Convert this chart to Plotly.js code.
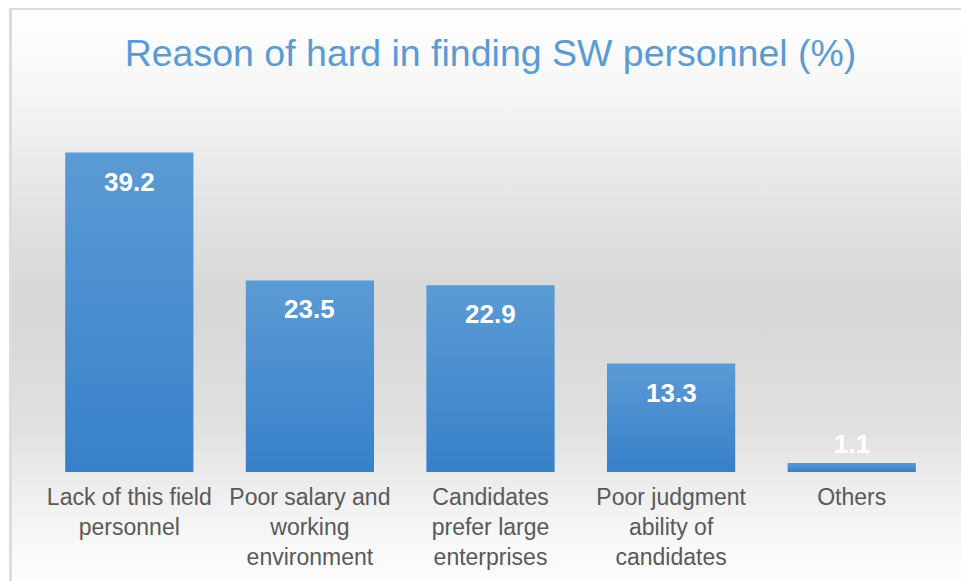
<!DOCTYPE html>
<html>
<head>
<meta charset="utf-8">
<script src="https://cdn.plot.ly/plotly-3.0.1.min.js"></script>
<style>
html,body{margin:0;padding:0;width:961px;height:581px;overflow:hidden;background:#ffffff;}
#frame{position:absolute;left:9px;top:8px;width:980px;height:600px;box-sizing:border-box;
border-left:3px solid #dcdcdc;border-top:2px solid #dcdcdc;
background:linear-gradient(to bottom,#ffffff 0px,#f5f5f5 90px,#e4e4e4 190px,#d8d8d8 280px,#d9d9d9 330px,#e1e1e1 420px,#ebebeb 465px,#f6f6f6 520px,#fdfdfd 573px);}
#chart{position:absolute;left:0;top:0;width:961px;height:581px;}
</style>
</head>
<body>
<div id="frame"></div>
<div id="chart"></div>
<script>
const categories = [
  "Lack of this field<br>personnel",
  "Poor salary and<br>working<br>environment",
  "Candidates<br>prefer large<br>enterprises",
  "Poor judgment<br>ability of<br>candidates",
  "Others"
];
const values = [39.2, 23.5, 22.9, 13.3, 1.1];
const chartTitle = "Reason of hard in finding SW personnel (%)";

const FONT = "Liberation Sans, Arial, sans-serif";
const yMax = 40;
const plotH = 581 - 145.5 - 109;

const annotations = values.map((v, i) => {
  const barPx = v / yMax * plotH;
  const inside = barPx > 50;
  return {
    x: categories[i], y: v, xref: 'x', yref: 'y',
    text: v.toFixed(1), showarrow: false,
    yanchor: 'middle', yshift: inside ? -29 : 19,
    font: {family: FONT, size: 26, color: '#ffffff', weight: 'bold'}
  };
});

const trace = {
  type: 'bar',
  x: categories,
  y: values,
  marker: {color: '#4a8fd2', line: {width: 0}},
  hoverinfo: 'none'
};

const layout = {
  width: 961, height: 581,
  margin: {l: 39, r: 19, t: 145.5, b: 109, pad: 0},
  paper_bgcolor: 'rgba(0,0,0,0)',
  plot_bgcolor: 'rgba(0,0,0,0)',
  bargap: 0.29,
  showlegend: false,
  title: {
    text: chartTitle,
    font: {family: FONT, size: 37.5, color: '#5b9bd5'},
    x: 0.5, xref: 'paper', xanchor: 'center',
    y: 1 - 53/581, yref: 'container', yanchor: 'middle'
  },
  xaxis: {
    showline: false, showgrid: false, zeroline: false, ticks: '',
    ticklabelstandoff: 9,
    tickfont: {family: FONT, size: 23, color: '#595959'},
    fixedrange: true
  },
  yaxis: {
    range: [0, yMax], visible: false, showgrid: false, zeroline: false, fixedrange: true
  },
  annotations: annotations
};

Plotly.newPlot('chart', [trace], layout, {displayModeBar: false, staticPlot: true}).then(gd => {
  const svg = gd.querySelector('svg.main-svg');
  const ns = 'http://www.w3.org/2000/svg';
  let defs = svg.querySelector('defs');
  if (!defs) { defs = document.createElementNS(ns, 'defs'); svg.insertBefore(defs, svg.firstChild); }
  const g = document.createElementNS(ns, 'linearGradient');
  g.setAttribute('id', 'barGrad');
  g.setAttribute('x1', '0'); g.setAttribute('y1', '0');
  g.setAttribute('x2', '0'); g.setAttribute('y2', '1');
  [['0', '#5b9bd5'], ['1', '#3780c9']].forEach(([o, c]) => {
    const s = document.createElementNS(ns, 'stop');
    s.setAttribute('offset', o); s.setAttribute('stop-color', c);
    g.appendChild(s);
  });
  defs.appendChild(g);
  gd.querySelectorAll('.trace.bars .point path').forEach(p => { p.style.fill = 'url(#barGrad)'; });
});
</script>
</body>
</html>
